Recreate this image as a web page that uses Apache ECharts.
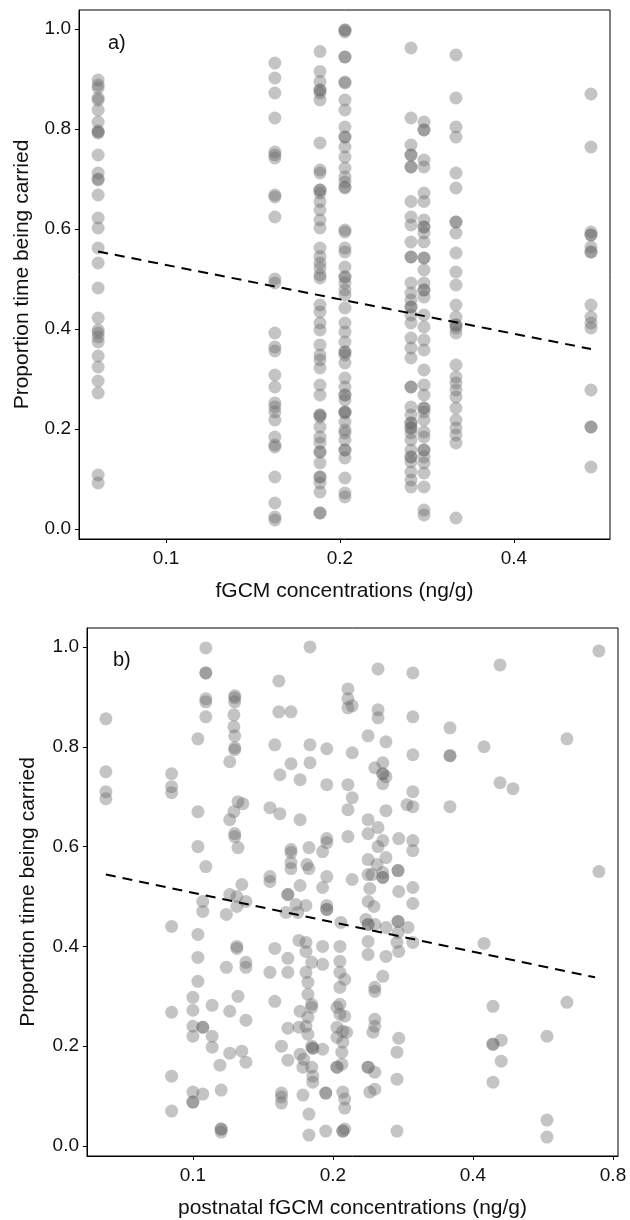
<!DOCTYPE html>
<html>
<head>
<meta charset="utf-8">
<script src="https://cdn.jsdelivr.net/npm/echarts@6/dist/echarts.min.js"></script>
<style>
html,body{margin:0;padding:0;background:#fff;}
#chart{width:630px;height:1220px;}
</style>
</head>
<body>
<div id="chart"></div>
<script>
// ---------- tick labels ----------
const yTicks = [0, 0.2, 0.4, 0.6, 0.8, 1.0];
const xTicksTop = [0.1, 0.2, 0.4];
const xTicksBottom = [0.1, 0.2, 0.4, 0.8];

// ---------- panel a: fGCM concentration groups ----------
const topX = [0.0763, 0.1543, 0.1847, 0.204, 0.2654, 0.2795, 0.3175, 0.5437];
const colA = [0.898,0.888,0.882,0.862,0.858,0.838,0.814,0.796,0.794,0.792,0.748,0.712,0.700,0.698,0.668,0.622,0.602,0.562,0.532,0.482,0.422,0.398,0.392,0.384,0.374,0.346,0.324,0.296,0.272,0.108,0.092];
const colB = [0.932,0.902,0.872,0.822,0.754,0.748,0.742,0.668,0.664,0.624,0.500,0.492,0.392,0.364,0.356,0.308,0.284,0.252,0.244,0.234,0.218,0.184,0.168,0.164,0.104,0.052,0.024,0.018];
const colC = [0.955,0.915,0.895,0.878,0.878,0.872,0.858,0.772,0.718,0.712,0.678,0.678,0.672,0.655,0.638,0.618,0.602,0.562,0.545,0.532,0.522,0.508,0.502,0.448,0.434,0.412,0.398,0.368,0.348,0.338,0.322,0.288,0.268,0.228,0.228,0.224,0.204,0.184,0.172,0.154,0.154,0.132,0.104,0.104,0.092,0.074,0.032,0.032];
const colD = [0.998,0.998,0.994,0.944,0.944,0.894,0.892,0.858,0.838,0.804,0.784,0.784,0.764,0.744,0.722,0.704,0.694,0.684,0.682,0.598,0.594,0.562,0.554,0.524,0.504,0.504,0.492,0.478,0.468,0.442,0.412,0.394,0.374,0.354,0.354,0.348,0.332,0.302,0.284,0.268,0.268,0.258,0.234,0.234,0.232,0.214,0.198,0.192,0.178,0.158,0.158,0.142,0.102,0.072,0.064];
const colE = [0.962,0.822,0.768,0.748,0.748,0.724,0.724,0.655,0.624,0.608,0.574,0.544,0.544,0.492,0.472,0.458,0.444,0.444,0.428,0.412,0.382,0.362,0.342,0.284,0.284,0.244,0.228,0.212,0.212,0.202,0.202,0.192,0.178,0.158,0.144,0.144,0.134,0.114,0.098,0.084];
const colF = [0.814,0.798,0.798,0.738,0.724,0.672,0.655,0.618,0.604,0.604,0.592,0.574,0.542,0.542,0.518,0.492,0.478,0.478,0.464,0.428,0.404,0.378,0.358,0.318,0.288,0.268,0.242,0.242,0.234,0.218,0.194,0.184,0.158,0.158,0.144,0.132,0.112,0.084,0.038,0.028];
const colG = [0.948,0.862,0.804,0.784,0.712,0.682,0.614,0.614,0.592,0.552,0.514,0.488,0.448,0.424,0.408,0.408,0.402,0.392,0.328,0.304,0.292,0.278,0.264,0.242,0.218,0.202,0.188,0.172,0.022];
const colH = [0.870,0.764,0.594,0.588,0.588,0.564,0.554,0.554,0.448,0.424,0.412,0.402,0.278,0.204,0.204,0.124];
const topCols = [colA, colB, colC, colD, colE, colF, colG, colH];
const trendTopX = [0.0763, 0.5437];
const trendTopY = [0.555, 0.360];

// ---------- panel b: postnatal fGCM (x, list of y) ----------
const postnatal = [
 [0.065,[0.856,0.750,0.710,0.696]],
 [0.090,[0.746,0.720,0.708,0.440,0.268,0.140,0.070]],
 [0.100,[0.298,0.272,0.240,0.220,0.108,0.088,0.088]],
 [0.1025,[0.816,0.670,0.600,0.424,0.378,0.330]],
 [0.105,[0.490,0.470,0.238,0.238,0.104]],
 [0.1066,[0.998,0.948,0.948,0.896,0.890,0.860,0.560]],
 [0.110,[0.282,0.220,0.198]],
 [0.1143,[0.162]],
 [0.115,[0.112,0.034,0.034,0.028]],
 [0.118,[0.464,0.358]],
 [0.120,[0.770,0.654,0.270,0.186,0.504]],
 [0.1225,[0.864,0.840,0.670]],
 [0.123,[0.902,0.898,0.890,0.822,0.798,0.794,0.626,0.620]],
 [0.1243,[0.500,0.480,0.400,0.396]],
 [0.125,[0.690,0.598,0.300]],
 [0.1274,[0.524,0.190]],
 [0.128,[0.686]],
 [0.130,[0.490,0.368,0.358,0.252,0.168]],
 [0.1464,[0.678,0.540,0.530,0.348]],
 [0.150,[0.804,0.396,0.290]],
 [0.153,[0.932,0.870]],
 [0.1538,[0.744,0.666]],
 [0.155,[0.200,0.106,0.098,0.086]],
 [0.1585,[0.468]],
 [0.160,[0.504,0.504,0.376,0.348,0.236,0.172]],
 [0.1625,[0.870,0.766,0.594,0.588,0.568,0.556]],
 [0.1665,[0.484]],
 [0.168,[0.468]],
 [0.169,[0.412,0.238]],
 [0.170,[0.734,0.654,0.522,0.270,0.184]],
 [0.1724,[0.158,0.102]],
 [0.173,[0.174]],
 [0.175,[0.482,0.408,0.390,0.348,0.240]],
 [0.1758,[0.564]],
 [0.1767,[0.328,0.304,0.258,0.224]],
 [0.1776,[0.598,0.556,0.064,0.022]],
 [0.1785,[1.000,0.804,0.768]],
 [0.180,[0.368,0.284,0.278,0.200,0.158]],
 [0.181,[0.196,0.196,0.140,0.128]],
 [0.190,[0.590,0.518,0.400,0.364,0.194]],
 [0.193,[0.106,0.106,0.030]],
 [0.194,[0.796,0.724,0.616,0.608,0.540,0.482,0.474,0.474]],
 [0.204,[0.278,0.238,0.218,0.158,0.158]],
 [0.207,[0.400,0.370,0.348,0.318,0.284,0.264]],
 [0.208,[0.448]],
 [0.209,[0.188,0.164]],
 [0.210,[0.230,0.208,0.108,0.030,0.030]],
 [0.212,[0.334,0.260,0.094,0.076,0.034]],
 [0.214,[0.228]],
 [0.2154,[0.916,0.896,0.878,0.724,0.674,0.620]],
 [0.220,[0.882,0.788,0.698,0.534]],
 [0.2355,[0.454]],
 [0.238,[0.822,0.654,0.626,0.574,0.544,0.490,0.444,0.444,0.410,0.384,0.158,0.158]],
 [0.240,[0.516,0.108]],
 [0.2426,[0.544]],
 [0.2438,[0.228]],
 [0.245,[0.480]],
 [0.246,[0.758,0.444,0.318,0.310,0.254,0.240,0.148,0.114]],
 [0.2487,[0.564]],
 [0.250,[0.956,0.874,0.858,0.638,0.600]],
 [0.256,[0.768,0.746,0.746,0.726,0.612,0.548,0.538,0.538,0.340]],
 [0.260,[0.810,0.740,0.672,0.578,0.438,0.380]],
 [0.2746,[0.408,0.188,0.134,0.030]],
 [0.276,[0.552,0.552,0.450,0.450,0.428]],
 [0.277,[0.616,0.510,0.390,0.216]],
 [0.2885,[0.684]],
 [0.290,[0.438]],
 [0.297,[0.948,0.860,0.784,0.710,0.680,0.612,0.592,0.518,0.486,0.408]],
 [0.357,[0.838,0.782,0.782,0.680]],
 [0.4225,[0.800,0.406]],
 [0.4416,[0.280,0.204,0.204,0.128]],
 [0.4573,[0.964,0.728]],
 [0.460,[0.212,0.170]],
 [0.4876,[0.716]],
 [0.577,[0.220,0.052,0.018]],
 [0.637,[0.816,0.288]],
 [0.746,[0.992,0.550]]
];
const trendBottomX = [0.065, 0.732];
const trendBottomY = [0.544, 0.338];

// ---------- axis ranges (raw units) ----------
const xRangeTop = [0.0707, 0.5865];
const xRangeBottom = [0.0592, 0.820];
const yRange = [-0.02, 1.038];

// ---------- build ----------
const L = Math.log2;
const FONT = "'Liberation Sans', Arial, Helvetica, sans-serif";
const pointColor = 'rgba(102,102,102,0.48)';

const topData = [];
topCols.forEach((ys, i) => ys.forEach(y => topData.push([L(topX[i]), y])));
const bottomData = [];
postnatal.forEach(g => g[1].forEach(y => bottomData.push([L(g[0]), y])));

function xAxisDef(gridIndex, range, ticks, name) {
  return {
    type: 'value', gridIndex,
    min: L(range[0]), max: L(range[1]),
    name, nameLocation: 'middle', nameGap: 42,
    nameTextStyle: {fontFamily: FONT, fontSize: 21, color: '#111'},
    axisLine: {show: true, onZero: false, lineStyle: {color: '#000', width: 1}},
    axisTick: {show: true, inside: false, length: 4, lineStyle: {color: '#000'}, customValues: ticks.map(L)},
    axisLabel: {show: true, margin: 10, fontFamily: FONT, fontSize: 19, color: '#111',
      customValues: ticks.map(L),
      formatter: v => String(Math.round(Math.pow(2, v) * 10) / 10)},
    splitLine: {show: false}
  };
}
function yAxisDef(gridIndex, gap) {
  return {
    type: 'value', gridIndex,
    min: yRange[0], max: yRange[1],
    name: 'Proportion time being carried', nameLocation: 'middle', nameGap: gap,
    nameTextStyle: {fontFamily: FONT, fontSize: 21, color: '#111'},
    axisLine: {show: true, onZero: false, lineStyle: {color: '#000', width: 1}},
    axisTick: {show: true, inside: false, length: 4, lineStyle: {color: '#000'}, customValues: yTicks},
    axisLabel: {show: true, margin: 8, fontFamily: FONT, fontSize: 19, color: '#111',
      customValues: yTicks, formatter: v => v.toFixed(1)},
    splitLine: {show: false}
  };
}
function trend(xs, ys, idx) {
  return {
    type: 'line', xAxisIndex: idx, yAxisIndex: idx,
    data: xs.map((x, i) => [L(x), ys[i]]),
    showSymbol: false, silent: true, z: 5,
    lineStyle: {color: '#000', width: 2, type: [10, 7]}
  };
}

const chart = echarts.init(document.getElementById('chart'), null, {renderer: 'canvas'});
chart.setOption({
  animation: false,
  backgroundColor: '#fff',
  grid: [
    {left: 79, top: 10, width: 531, height: 529, show: true, borderColor: '#000', borderWidth: 1, backgroundColor: 'transparent'},
    {left: 87, top: 628, width: 531, height: 529, show: true, borderColor: '#000', borderWidth: 1, backgroundColor: 'transparent'}
  ],
  xAxis: [
    xAxisDef(0, xRangeTop, xTicksTop, 'fGCM concentrations (ng/g)'),
    xAxisDef(1, xRangeBottom, xTicksBottom, 'postnatal fGCM concentrations (ng/g)')
  ],
  yAxis: [yAxisDef(0, 46), yAxisDef(1, 48)],
  graphic: [
    {type: 'text', left: 108, top: 33, style: {text: 'a)', font: "20px 'Liberation Sans', Arial, sans-serif", fill: '#111'}},
    {type: 'text', left: 113, top: 650, style: {text: 'b)', font: "20px 'Liberation Sans', Arial, sans-serif", fill: '#111'}}
  ],
  series: [
    {type: 'scatter', xAxisIndex: 0, yAxisIndex: 0, data: topData, symbolSize: 13,
      itemStyle: {color: pointColor, borderWidth: 0}, silent: true},
    {type: 'scatter', xAxisIndex: 1, yAxisIndex: 1, data: bottomData, symbolSize: 13,
      itemStyle: {color: pointColor, borderWidth: 0}, silent: true},
    trend(trendTopX, trendTopY, 0),
    trend(trendBottomX, trendBottomY, 1)
  ]
});
</script>
</body>
</html>
